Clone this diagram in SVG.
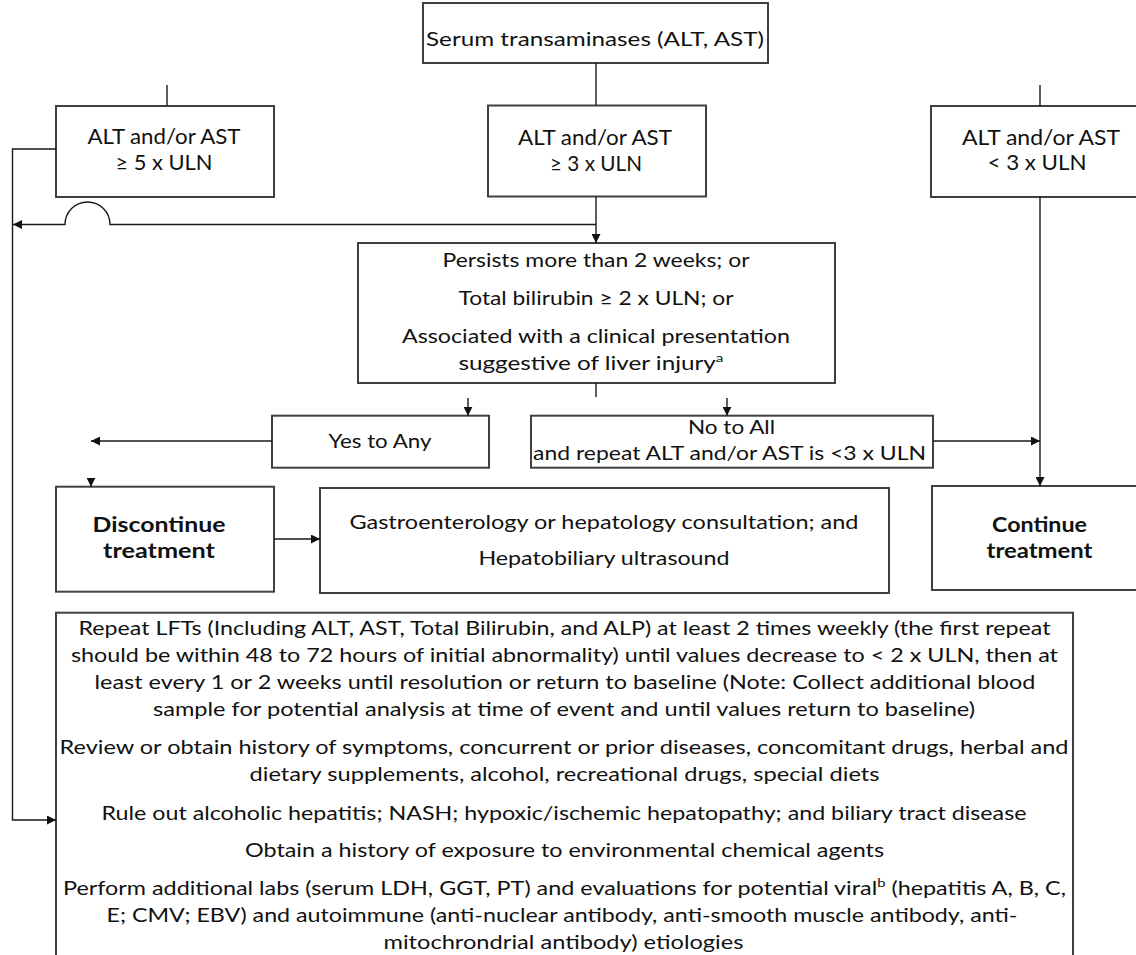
<svg xmlns="http://www.w3.org/2000/svg" width="1136" height="955" viewBox="0 0 1136 955">
<defs>
<marker id="ah" markerUnits="userSpaceOnUse" markerWidth="10" markerHeight="9" refX="9" refY="4.5" orient="auto"><path d="M0,0 L9,4.5 L0,9 z" fill="#111"/></marker>
<style>
.box{fill:#fff;stroke:#404040;stroke-width:2}
.t{font-family:Lato,"Liberation Sans",Arial,sans-serif;font-size:19px;fill:#111;text-anchor:middle}
.b{font-weight:bold;font-size:20px}
.big{font-size:21px}
.c{fill:none;stroke:#1a1a1a;stroke-width:1.4}
.sup{font-size:12px}
</style>
</defs>
<rect width="1136" height="955" fill="#fff"/>

<g id="n-serum">
<rect class="box" x="423" y="3" width="345" height="60"/>
<text class="t" x="595" y="46" textLength="338" lengthAdjust="spacingAndGlyphs">Serum transaminases (ALT, AST)</text>
</g>
<g id="n-ge5">
<rect class="box" x="56" y="106" width="218" height="91"/>
<text class="t big" x="164" y="144" textLength="153" lengthAdjust="spacingAndGlyphs">ALT and/or AST</text>
<text class="t big" x="164" y="170" textLength="97" lengthAdjust="spacingAndGlyphs">≥ 5 x ULN</text>
</g>
<g id="n-ge3">
<rect class="box" x="488" y="105.5" width="218" height="91"/>
<text class="t big" x="595" y="145" textLength="154" lengthAdjust="spacingAndGlyphs">ALT and/or AST</text>
<text class="t big" x="596" y="171" textLength="92" lengthAdjust="spacingAndGlyphs">≥ 3 x ULN</text>
</g>
<g id="n-lt3">
<rect class="box" x="931" y="106" width="210" height="91"/>
<text class="t big" x="1041" y="145" textLength="158" lengthAdjust="spacingAndGlyphs">ALT and/or AST</text>
<text class="t big" x="1037" y="170" textLength="99" lengthAdjust="spacingAndGlyphs">&lt; 3 x ULN</text>
</g>
<g id="n-persists">
<rect class="box" x="358" y="243" width="477" height="140"/>
<text class="t" x="596" y="267" textLength="307" lengthAdjust="spacingAndGlyphs">Persists more than 2 weeks; or</text>
<text class="t" x="596" y="305" textLength="275" lengthAdjust="spacingAndGlyphs">Total bilirubin ≥ 2 x ULN; or</text>
<text class="t" x="596" y="343" textLength="388" lengthAdjust="spacingAndGlyphs">Associated with a clinical presentation</text>
<text class="t" x="591" y="370" textLength="265" lengthAdjust="spacingAndGlyphs">suggestive of liver injury<tspan class="sup" dy="-8">a</tspan></text>
</g>
<g id="n-yes">
<rect class="box" x="272" y="415.7" width="217" height="52"/>
<text class="t" x="380" y="448" textLength="103" lengthAdjust="spacingAndGlyphs">Yes to Any</text>
</g>
<g id="n-no">
<rect class="box" x="531" y="415.7" width="402" height="52"/>
<text class="t" x="731.5" y="434" textLength="87" lengthAdjust="spacingAndGlyphs">No to All</text>
<text class="t" x="729.5" y="460" textLength="393" lengthAdjust="spacingAndGlyphs">and repeat ALT and/or AST is &lt;3 x ULN</text>
</g>
<g id="n-discontinue">
<rect class="box" x="56" y="486.7" width="218" height="105"/>
<text class="t b" x="159" y="532" textLength="133" lengthAdjust="spacingAndGlyphs">Discontinue</text>
<text class="t b" x="159" y="558" textLength="112" lengthAdjust="spacingAndGlyphs">treatment</text>
</g>
<g id="n-gastro">
<rect class="box" x="320" y="488" width="569" height="105"/>
<text class="t" x="604" y="529" textLength="509" lengthAdjust="spacingAndGlyphs">Gastroenterology or hepatology consultation; and</text>
<text class="t" x="604" y="565" textLength="251" lengthAdjust="spacingAndGlyphs">Hepatobiliary ultrasound</text>
</g>
<g id="n-continue">
<rect class="box" x="932" y="486" width="210" height="104"/>
<text class="t b" x="1039.5" y="532" textLength="95" lengthAdjust="spacingAndGlyphs">Continue</text>
<text class="t b" x="1039.5" y="558" textLength="106" lengthAdjust="spacingAndGlyphs">treatment</text>
</g>
<g id="n-actions">
<rect class="box" x="56" y="612.7" width="1017" height="360"/>
<text class="t" x="564.5" y="635" textLength="972" lengthAdjust="spacingAndGlyphs">Repeat LFTs (Including ALT, AST, Total Bilirubin, and ALP) at least 2 times weekly (the first repeat</text>
<text class="t" x="564.5" y="662" textLength="987" lengthAdjust="spacingAndGlyphs">should be within 48 to 72 hours of initial abnormality) until values decrease to &lt; 2 x ULN, then at</text>
<text class="t" x="565" y="689" textLength="941" lengthAdjust="spacingAndGlyphs">least every 1 or 2 weeks until resolution or return to baseline (Note: Collect additional blood</text>
<text class="t" x="564" y="716" textLength="822" lengthAdjust="spacingAndGlyphs">sample for potential analysis at time of event and until values return to baseline)</text>
<text class="t" x="564" y="754" textLength="1009" lengthAdjust="spacingAndGlyphs">Review or obtain history of symptoms, concurrent or prior diseases, concomitant drugs, herbal and</text>
<text class="t" x="564.5" y="781" textLength="630" lengthAdjust="spacingAndGlyphs">dietary supplements, alcohol, recreational drugs, special diets</text>
<text class="t" x="564" y="820" textLength="925" lengthAdjust="spacingAndGlyphs">Rule out alcoholic hepatitis; NASH; hypoxic/ischemic hepatopathy; and biliary tract disease</text>
<text class="t" x="564.5" y="857" textLength="639" lengthAdjust="spacingAndGlyphs">Obtain a history of exposure to environmental chemical agents</text>
<text class="t" x="564.5" y="895" textLength="1003" lengthAdjust="spacingAndGlyphs">Perform additional labs (serum LDH, GGT, PT) and evaluations for potential viral<tspan class="sup" dy="-8">b</tspan><tspan dy="8"> (hepatitis A, B, C,</tspan></text>
<text class="t" x="562" y="922" textLength="911" lengthAdjust="spacingAndGlyphs">E; CMV; EBV) and autoimmune (anti-nuclear antibody, anti-smooth muscle antibody, anti-</text>
<text class="t" x="563.5" y="949" textLength="360" lengthAdjust="spacingAndGlyphs">mitochrondrial antibody) etiologies</text>
</g>

<g id="connectors" class="c">
<path class="c" d="M596,63 V105.5"/>
<path class="c" d="M167,85 V106"/>
<path class="c" d="M1040,85 V106"/>
<path class="c" d="M596,196.5 V243" marker-end="url(#ah)"/>
<path class="c" d="M596,224.5 H110 A22.5,22.5 0 0 0 65,224.5 H13" marker-end="url(#ah)"/>
<path class="c" d="M56,149 H12.5 V820 H56" marker-end="url(#ah)"/>
<path class="c" d="M1040,197 V486" marker-end="url(#ah)"/>
<path class="c" d="M933,441 H1040" marker-end="url(#ah)"/>
<path class="c" d="M596,383 V397"/>
<path class="c" d="M468,398 V415.7" marker-end="url(#ah)"/>
<path class="c" d="M727,398 V415.7" marker-end="url(#ah)"/>
<path class="c" d="M272,441 H91" marker-end="url(#ah)"/>
<path class="c" d="M91,479 V486.7" marker-end="url(#ah)"/>
<path class="c" d="M274,539 H320" marker-end="url(#ah)"/>
</g>
</svg>
